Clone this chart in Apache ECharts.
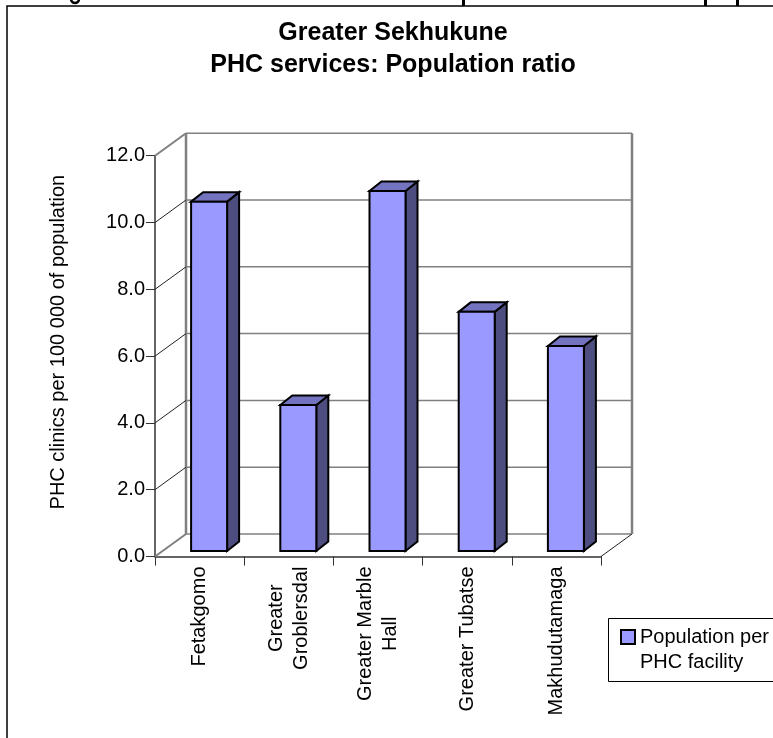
<!DOCTYPE html>
<html><head><meta charset="utf-8">
<style>html,body{margin:0;padding:0;background:#fff}#c{width:773px;height:738px}</style>
<script src="https://cdn.jsdelivr.net/npm/echarts@6/dist/echarts.min.js"></script>
</head><body><div id="c"></div>
<script>
const categories = ['Fetakgomo','Greater\nGroblersdal','Greater Marble\nHall','Greater Tubatse','Makhudutamaga'];
const values = [10.46,4.37,10.78,7.16,6.14];
const seriesName = 'Population per\nPHC facility';
const yTicks = [0,2,4,6,8,10,12];
const titleLines = 'Greater Sekhukune\nPHC services: Population ratio';
const yAxisName = 'PHC clinics per 100 000 of population';
const FONT = '"Liberation Sans", Arial, sans-serif';
const WX = 31, WY = -22.5;           // wall depth
const BX = 9.5, BY = -5.5, DX = 12, DY = -9.5, BW = 36; // bar placement

// Two-line labels are centred line by line, with the block's end at the axis margin.
const ctx = document.createElement('canvas').getContext('2d');
ctx.font = '20px ' + FONT;
const categoryItems = categories.map(c => {
  if (c.indexOf('\n') < 0) return c;
  const w = Math.max(...c.split('\n').map(s => ctx.measureText(s).width));
  return {value:c, textStyle:{align:'center', padding:[0, w, 0, 0]}};
});

const chart = echarts.init(document.getElementById('c'), null, {renderer:'canvas'});
function line(x1,y1,x2,y2,stroke,w){return {type:'line',shape:{x1,y1,x2,y2},style:{stroke,lineWidth:w,fill:null},silent:true};}
chart.setOption({
  animation:false,
  backgroundColor:'#fff',
  title:{text:titleLines,left:388,top:12,textAlign:'center',
    textStyle:{fontFamily:FONT,fontSize:25,fontWeight:'bold',color:'#000',lineHeight:32}},
  legend:{show:true,left:620,top:625,orient:'vertical',padding:0,
    itemWidth:14,itemHeight:40,itemGap:0,
    data:[{name:seriesName,icon:'path://M0,0H14V14H0Z M0,40L0,40'}],
    textStyle:{fontFamily:FONT,fontSize:20,color:'#000',lineHeight:25}},
  grid:{left:155,right:172,top:155.7,bottom:181.5,containLabel:false},
  xAxis:{type:'category',data:categoryItems,boundaryGap:true,
    axisLine:{lineStyle:{color:'#333',width:1.5}},
    axisTick:{show:true,alignWithLabel:false,length:9,lineStyle:{color:'#333',width:1}},
    axisLabel:{interval:0,rotate:90,margin:10,fontFamily:FONT,fontSize:20,color:'#000',lineHeight:25,align:'right',verticalAlign:'middle'}},
  yAxis:{type:'value',min:0,max:12,interval:2,name:yAxisName,nameLocation:'middle',nameGap:87,nameRotate:90,
    nameTextStyle:{fontFamily:FONT,fontSize:20,color:'#000',padding:[0,0,0,28]},
    axisLine:{show:true,lineStyle:{color:'#333',width:1.5}},
    axisTick:{show:true,length:9,inside:false,lineStyle:{color:'#333',width:1}},
    splitLine:{show:false},
    axisLabel:{margin:10,fontFamily:FONT,fontSize:20,color:'#000',formatter:v=>v.toFixed(1)}},
  series:[
   {type:'custom',name:'walls',silent:true,z:1,encode:{x:0,y:1},legendHoverLink:false,
    data:yTicks.map(t=>[0,t]),
    renderItem(p,api){
      const t=api.value(1), a=api.coord([0,t]), s=api.size([1,0]);
      const x0=a[0]-s[0]/2, y=a[1], x1=x0+5*s[0];
      const kids=[];
      kids.push(line(x0+WX,y+WY,x1+WX,y+WY,'#808080',1.5));
      if(t===0){
        const top=api.coord([0,12])[1];
        kids.push(line(x0,y,x0+WX,y+WY,'#808080',2));
        kids.push(line(x1,y,x1+WX,y+WY,'#222',1));
        kids.push(line(x0+WX,y+WY,x0+WX,top+WY,'#808080',2.5));
        kids.push(line(x1+WX,y+WY,x1+WX,top+WY,'#808080',2.5));
      } else if(t===12){
        kids.push(line(x0,y,x0+WX,y+WY,'#808080',2));
      } else {
        kids.push(line(x0,y,x0+WX,y+WY,'#222',1));
      }
      return {type:'group',children:kids};
    }},
   {type:'custom',name:seriesName,z:3,encode:{x:0,y:1},
    itemStyle:{color:'#9999FF',borderColor:'#000',borderWidth:2},
    data:values.map((v,i)=>[i,v]),
    renderItem(p,api){
      const c=api.coord([api.value(0),api.value(1)]), b=api.coord([api.value(0),0]);
      const xl=c[0]-BW/2+BX, xr=xl+BW, yt=c[1]+BY, yb=b[1]+BY;
      const st=f=>({fill:f,stroke:'#000',lineWidth:2,lineJoin:'miter'});
      return {type:'group',children:[
        {type:'polygon',shape:{points:[[xr,yt],[xr+DX,yt+DY],[xr+DX,yb+DY],[xr,yb]]},style:st('#4D4D80')},
        {type:'polygon',shape:{points:[[xl,yt],[xl+DX,yt+DY],[xr+DX,yt+DY],[xr,yt]]},style:st('#7373BF')},
        {type:'rect',shape:{x:xl,y:yt,width:BW,height:yb-yt},style:st('#9999FF')}
      ]};
    }}
  ],
  graphic:[
    {type:'rect',z:-1,silent:true,shape:{x:7,y:6,width:780,height:740},style:{fill:'none',stroke:'#000',lineWidth:1.5}},
    {type:'rect',z:-1,silent:true,shape:{x:608.5,y:618.5,width:180,height:63},style:{fill:'#fff',stroke:'#000',lineWidth:1}},
    {type:'rect',z:-1,silent:true,shape:{x:462,y:0,width:3,height:6},style:{fill:'#000'}},
    {type:'rect',z:-1,silent:true,shape:{x:704,y:0,width:3,height:6},style:{fill:'#000'}},
    {type:'rect',z:-1,silent:true,shape:{x:736,y:0,width:3,height:6},style:{fill:'#000'}},
    {type:'arc',z:-1,silent:true,shape:{cx:75,cy:-1,r:4,startAngle:0,endAngle:Math.PI},style:{fill:'none',stroke:'#000',lineWidth:2.5}}
  ]
});
</script></body></html>
